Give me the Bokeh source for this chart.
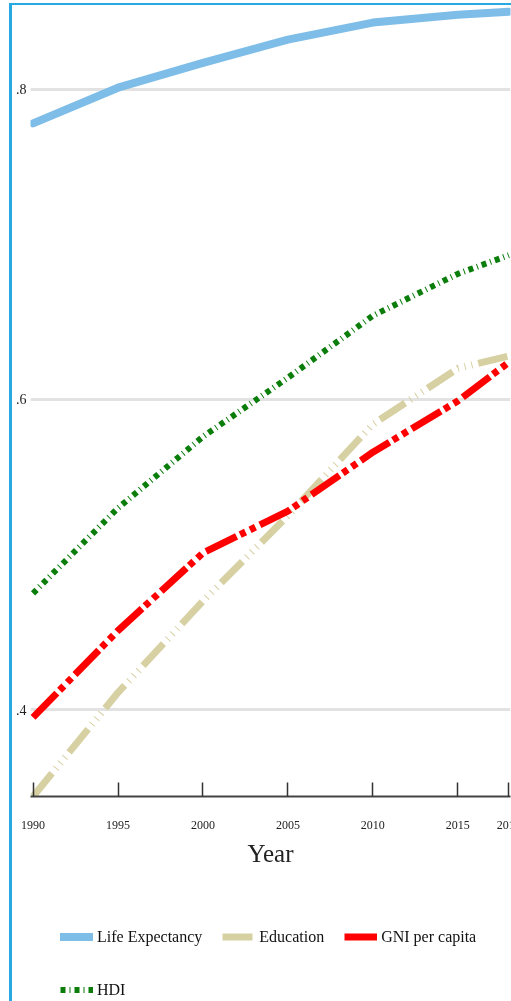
from bokeh.plotting import figure
from bokeh.layouts import column
from bokeh.models import Range1d, FixedTicker, CustomJSTickFormatter, Legend, LegendItem
from bokeh.embed import file_html
from bokeh.resources import INLINE

# ---- data ----
years = [1990, 1995, 2000, 2005, 2010, 2015, 2018]
life_expectancy = [0.778, 0.801, 0.817, 0.832, 0.843, 0.848, 0.850]
education = [0.344, 0.411, 0.470, 0.525, 0.584, 0.620, 0.628]
gni_per_capita = [0.395, 0.451, 0.501, 0.528, 0.566, 0.599, 0.624]
hdi = [0.475, 0.530, 0.576, 0.614, 0.654, 0.681, 0.693]
x_ticks = [1990, 1995, 2000, 2005, 2010, 2015, 2018]
y_ticks = [0.4, 0.6, 0.8]
series_names = ["Life Expectancy", "Education", "GNI per capita", "HDI"]

FONT = "Liberation Serif"

STYLES = [
    dict(line_color="#7dbde8", line_width=8, line_cap="round", line_join="round"),
    dict(line_color="#d6d0a2", line_width=7, line_dash="30 6 1 6 1 6 1 6"),
    dict(line_color="#ff0000", line_width=7, line_dash="34 4 6 5 6 5"),
    dict(line_color="#0a7d0a", line_width=6, line_dash="5 4 1 4"),
]
series = [life_expectancy, education, gni_per_capita, hdi]

p = figure(
    width=520, height=871,
    x_range=Range1d(1989.85, 2018.1),
    y_range=Range1d(0.344, 0.854),
    output_backend="svg", toolbar_location=None,
    min_border_left=17, min_border_right=22, min_border_top=0, min_border_bottom=80,
)
p.outline_line_color = None
p.background_fill_color = "white"
p.border_fill_color = "white"

# grid
p.xgrid.grid_line_color = None
p.ygrid.grid_line_color = "#e2e2e2"
p.ygrid.grid_line_width = 3
p.ygrid.ticker = FixedTicker(ticks=y_ticks)

# x axis
xa = p.xaxis[0]
xa.ticker = FixedTicker(ticks=x_ticks)
xa.axis_line_color = "#444444"
xa.axis_line_width = 2
xa.major_tick_line_color = "#333333"
xa.major_tick_line_width = 1.5
xa.major_tick_in = 14
xa.major_tick_out = 0
xa.minor_tick_line_color = None
xa.minor_tick_in = 0
xa.minor_tick_out = 0
xa.major_label_text_font = FONT
xa.major_label_text_font_size = "12px"
xa.major_label_text_color = "#222222"
xa.major_label_standoff = 24
xa.axis_label = "Year"
xa.axis_label_text_font = FONT
xa.axis_label_text_font_size = "25px"
xa.axis_label_text_font_style = "normal"
xa.axis_label_text_color = "#222222"
xa.axis_label_standoff = 8

# y axis
ya = p.yaxis[0]
ya.ticker = FixedTicker(ticks=y_ticks)
ya.formatter = CustomJSTickFormatter(code="return tick.toFixed(1).replace(/^0/, '');")
ya.axis_line_color = None
ya.major_tick_line_color = None
ya.minor_tick_line_color = None
ya.major_tick_in = 0
ya.major_tick_out = 0
ya.minor_tick_in = 0
ya.minor_tick_out = 0
ya.major_label_text_font = FONT
ya.major_label_text_font_size = "14px"
ya.major_label_text_color = "#222222"
ya.major_label_standoff = 4

# lines
for vals, st in zip(series, STYLES):
    p.line(years, vals, **st)

# legend panel (separate figure under the chart; its lines lie outside its view)
pl = figure(
    width=520, height=130,
    x_range=p.x_range, y_range=Range1d(5, 6),
    output_backend="svg", toolbar_location=None,
    min_border_left=0, min_border_right=0, min_border_top=0, min_border_bottom=0,
)
pl.axis.visible = False
pl.grid.visible = False
pl.outline_line_color = None
items = []
for name, vals, st in zip(series_names, series, STYLES):
    r = pl.line(years, vals, **st)
    items.append(LegendItem(label=name, renderers=[r]))

legend = Legend(
    items=items,
    location=(30, 0),
    orientation="horizontal",
    ncols=3,
    glyph_width=33, glyph_height=33,
    label_standoff=4, spacing=20,
    padding=0, margin=0,
    border_line_color=None, background_fill_alpha=0,
    label_text_font=FONT, label_text_font_size="16px", label_text_color="#111111",
)
pl.add_layout(legend, "center")

layout = column(p, pl, spacing=0)
layout.styles = {
    "position": "fixed", "left": "9px", "top": "3px",
    "border-left": "3px solid #27a9e1", "border-top": "2px solid #27a9e1",
}

open("out.html", "w").write(file_html(layout, INLINE))
